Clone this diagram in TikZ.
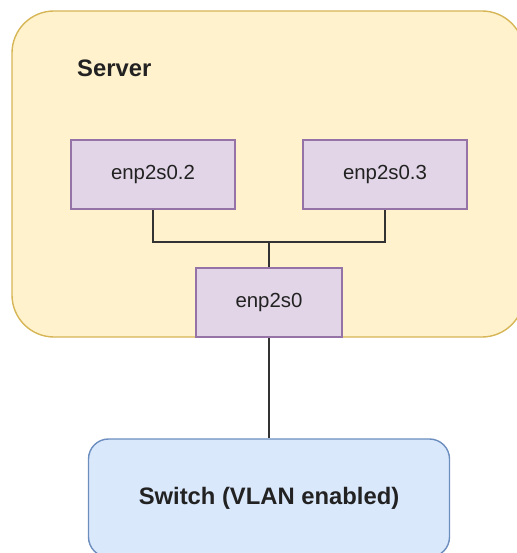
\documentclass[tikz,border=0pt]{standalone}
\usepackage{fontspec}
\setmainfont{Liberation Sans}
\definecolor{srvfill}{HTML}{FFF2CC}
\definecolor{srvdraw}{HTML}{D6B656}
\definecolor{ifill}{HTML}{E1D5E7}
\definecolor{idraw}{HTML}{9673A6}
\definecolor{swfill}{HTML}{DAE8FC}
\definecolor{swdraw}{HTML}{6C8EBF}
\definecolor{txt}{HTML}{222222}
\begin{document}
\begin{tikzpicture}[x=1pt,y=-1pt,
  iface/.style={draw=idraw,fill=ifill,line width=1.4pt,minimum width=164pt,minimum height=69pt,inner sep=0pt,font=\fontsize{20.4}{24}\selectfont,text=txt},
  wire/.style={draw=black!80,line width=1.4pt}]
\useasboundingbox (0,0) rectangle (516,553);
\draw[draw=srvdraw,fill=srvfill,line width=1.4pt,rounded corners=42pt] (12,11) rectangle (524,337);
\node[font=\bfseries\fontsize{23.8}{28}\selectfont,text=txt,anchor=base west,inner sep=0pt] (srv) at (77,77) {Server};
\node[iface] (a) at (153,174.5) {enp2s0.2};
\node[iface] (b) at (385,174.5) {enp2s0.3};
\node[iface,minimum width=146pt] (c) at (269,302.5) {enp2s0};
\node[draw=swdraw,fill=swfill,line width=1.4pt,rounded corners=20pt,minimum width=361pt,minimum height=118pt,font=\bfseries\fontsize{23.8}{28}\selectfont,text=txt] (sw) at (269,498) {Switch (VLAN enabled)};
\coordinate (j) at (269,242);
\draw[wire] (a.south) |- (j) -| (b.south);
\draw[wire] (j) -- (c.north);
\draw[wire] (c.south) -- (sw.north);
\end{tikzpicture}
\end{document}
